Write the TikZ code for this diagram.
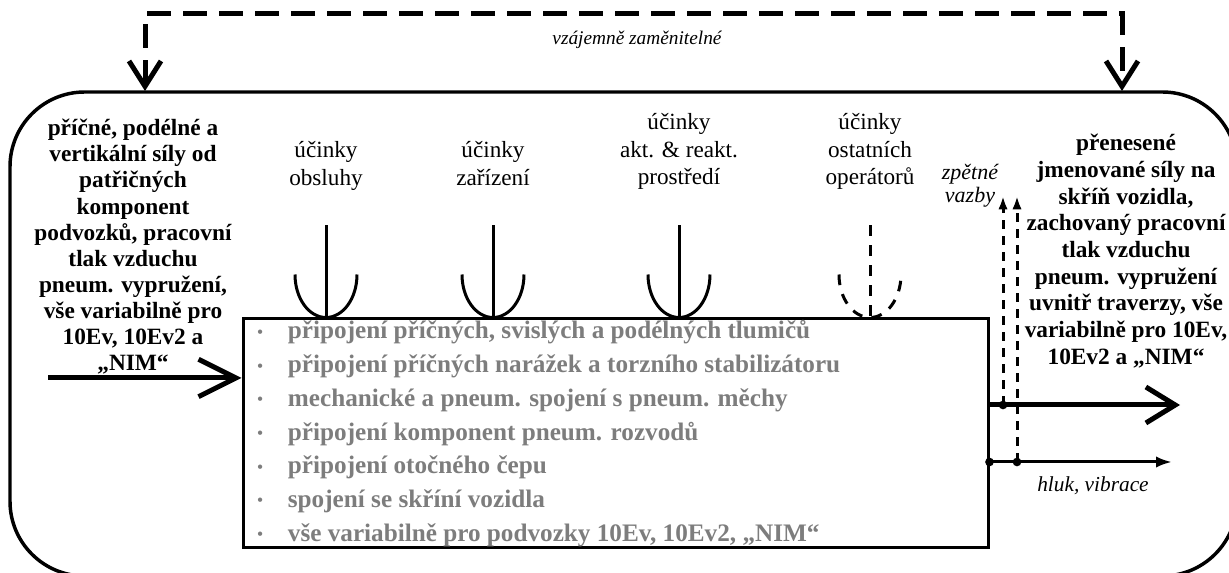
\documentclass[tikz,border=0pt]{standalone}
\usepackage{fontspec}
\setmainfont{Liberation Serif}
\usetikzlibrary{arrows.meta,calc}
\definecolor{itemgray}{RGB}{125,125,125}
\tikzset{
  frame/.style={line width=2.6pt, rounded corners=56pt},
  blockbox/.style={draw, line width=2.25pt, inner sep=0pt,
    minimum width=558.75pt, minimum height=171.75pt},
  bigtxtL/.style={font=\fontsize{17.5}{19.6}\selectfont\bfseries, align=center, inner sep=0pt},
  bigtxtR/.style={font=\fontsize{17.5}{20}\selectfont\bfseries, align=center, inner sep=0pt},
  lbl/.style={font=\fontsize{17.4}{20.8}\selectfont, align=center, inner sep=0pt},
  note/.style={font=\fontsize{14.5}{16}\selectfont\itshape, align=center, inner sep=0pt},
  itemtxt/.style={font=\fontsize{18.9}{20}\selectfont\bfseries, text=itemgray, inner sep=0pt},
  swap/.style={line width=3.75pt, dash pattern=on 18pt off 9pt,
    {Straight Barb[length=19pt,width=24pt,line width=3.75pt]}-{Straight Barb[length=19pt,width=24pt,line width=3.75pt]}},
  flowin/.style={line width=3.75pt, -{Straight Barb[length=28pt,width=28pt,line width=3.75pt]}},
  flowout/.style={line width=3.75pt, -{Straight Barb[length=22pt,width=27pt,line width=3.75pt]}},
  thin/.style={line width=2.25pt, -{Latex[length=12pt,width=8.5pt]}},
  fback/.style={line width=2.25pt, dash pattern=on 7pt off 5pt, -{Latex[length=10pt,width=7pt]}},
  junction/.style={fill, circle, inner sep=0pt, minimum size=6.5pt},
  cup/.style={line width=2.25pt},
}
% U-shaped receptor: stem from above and a rounded cup resting on the block
\newcommand{\receptor}[2][]{%
  \draw[cup,#1] ($(#2)+(0,-92)$) -- (#2);
  \draw[cup,#1] ($(#2)+(-31,-43)$) .. controls ($(#2)+(-31,-19)$) and ($(#2)+(-17,0)$) .. (#2)
     .. controls ($(#2)+(17,0)$) and ($(#2)+(31,-19)$) .. ($(#2)+(31,-43)$);
}
\begin{document}
\begin{tikzpicture}[x=0.75pt,y=-0.75pt]
\useasboundingbox (0,0) rectangle (1229,573);
\clip (0,0) rectangle (1229,573);

% outer system boundary
\draw[frame] (10,92) rectangle (1237,576);

% central block with its list of functions
\node[blockbox] (box) at (615.5,433.5) {};
\foreach \t [count=\i from 0] in {
  {připojení příčných, svislých a podélných tlumičů},
  {připojení příčných narážek a torzního stabilizátoru},
  {mechanické a pneum. spojení s pneum. měchy},
  {připojení komponent pneum. rozvodů},
  {připojení otočného čepu},
  {spojení se skříní vozidla},
  {vše variabilně pro podvozky 10Ev, 10Ev2, „NIM“}}
  \node[itemtxt, anchor=base west] (it\i) at (257,{339+33.7*\i})
    {\makebox[23pt][l]{\raisebox{1.2pt}{\fontsize{12}{12}\selectfont •}}\t};

% inputs and outputs
\node[bigtxtL, anchor=north] (inL) at (133,119) {příčné, podélné a\\vertikální síly od\\patřičných\\komponent\\podvozků, pracovní\\tlak vzduchu\\pneum. vypružení,\\vše variabilně pro\\10Ev, 10Ev2 a\\„NIM“};
\node[bigtxtR, anchor=north] (outR) at (1126,134) {přenesené\\jmenované síly na\\skříň vozidla,\\zachovaný pracovní\\tlak vzduchu\\pneum. vypružení\\uvnitř traverzy, vše\\variabilně pro 10Ev,\\10Ev2 a „NIM“};

\coordinate (inS) at (48,378);
\draw[flowin] (inS) -- (box.west |- inS);
\coordinate (outE) at (1180,405);
\draw[flowout] (box.east |- outE) -- (outE);
\coordinate (hlE) at (1172,462);
\draw[thin] (box.east |- hlE) -- (hlE);
\node[note, font=\fontsize{16}{17}\selectfont\itshape, anchor=north] (hluk) at (1093,476) {hluk, vibrace};

% feedback paths
\node[junction] (j1) at (1003,405) {};
\node[junction] (j2) at (1017,462) {};
\node[junction] (j3) at (box.east |- hlE) {};
\coordinate (f1) at (1003,196);
\coordinate (f2) at (1017,196);
\draw[fback] (j1.center) -- (f1);
\draw[fback] (j2.center) -- (f2);
\node[note, font=\fontsize{16.5}{17.5}\selectfont\itshape, anchor=north] (zp) at (970,164) {zpětné\\vazby};

% interchangeability
\coordinate (tL) at (145,91);
\coordinate (tR) at (1122,91);
\draw[swap] (tL) -- (tL |- 0,14) -- (tR |- 0,14) -- (tR);
\node[note, anchor=north] (vz) at (637,31) {vzájemně zaměnitelné};

% external influences
\node[lbl, anchor=north] (l1) at (326,141) {účinky\\obsluhy};
\node[lbl, anchor=north] (l2) at (493,141) {účinky\\zařízení};
\node[lbl, anchor=north] (l3) at (679,113) {účinky\\akt. \& reakt.\\prostředí};
\node[lbl, anchor=north] (l4) at (870,113) {účinky\\ostatních\\operátorů};

\foreach \n in {l1,l2,l3}{
  \coordinate (c) at (\n |- box.north);
  \receptor{c}
}
\coordinate (c4) at (l4 |- box.north);
\receptor[dash pattern=on 8pt off 7pt]{c4}
\end{tikzpicture}
\end{document}
